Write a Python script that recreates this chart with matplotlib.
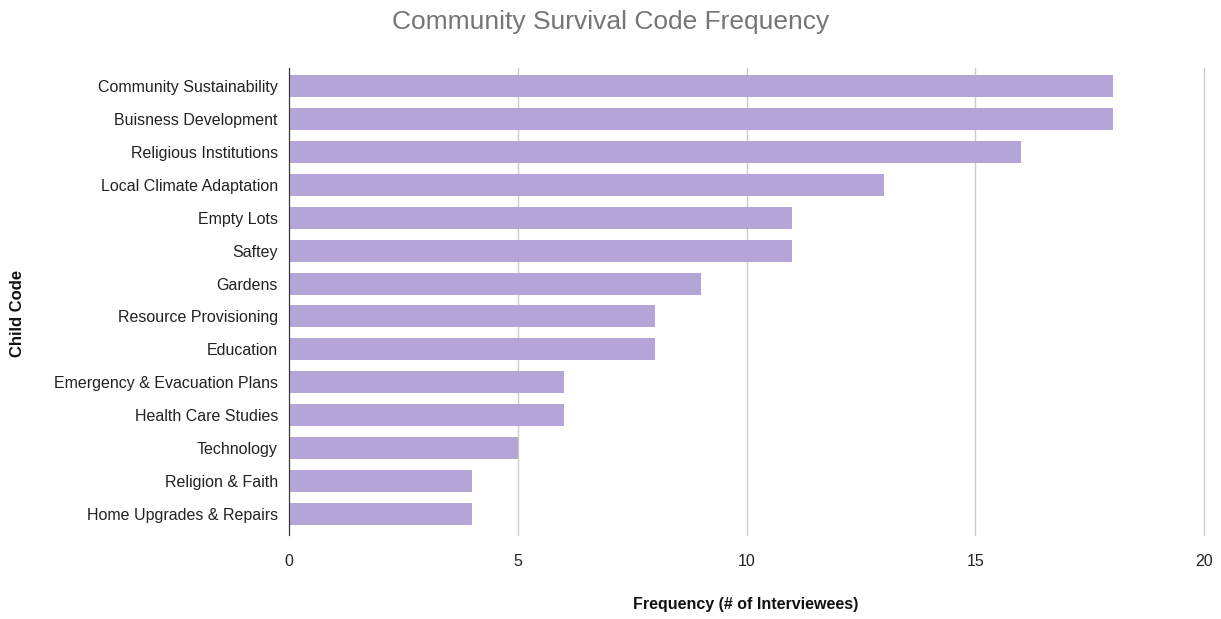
import matplotlib
matplotlib.use("Agg")
import matplotlib.pyplot as plt

categories = ["Community Sustainability", "Buisness Development", "Religious Institutions",
              "Local Climate Adaptation", "Empty Lots", "Saftey", "Gardens",
              "Resource Provisioning", "Education", "Emergency & Evacuation Plans",
              "Health Care Studies", "Technology", "Religion & Faith", "Home Upgrades & Repairs"]
values = [18, 18, 16, 13, 11, 11, 9, 8, 8, 6, 6, 5, 4, 4]
xticks = [0, 5, 10, 15, 20]

plt.rcParams['font.family'] = ['Liberation Sans', 'DejaVu Sans']

fig = plt.figure(figsize=(12.21, 6.19), dpi=100)
ax = fig.add_axes([289/1221, 1-535/619, (1204-289)/1221, (535-68)/619])

ypos = list(range(len(categories)))
ax.barh(ypos, values, height=0.67, color="#b3a5d6", zorder=3)
ax.set_yticks(ypos)
ax.set_yticklabels(categories, fontsize=11.5, color="#222222")
ax.set_ylim(13.64, -0.55)
ax.set_xlim(0, 20)
ax.set_xticks(xticks)
ax.set_xticklabels([str(t) for t in xticks], fontsize=11.5, color="#222222")
ax.grid(axis='x', color="#cccccc", linewidth=1, zorder=0)
for gl in ax.get_xgridlines():
    gl.set_clip_on(False)
for s in ["top", "right", "bottom"]:
    ax.spines[s].set_visible(False)
ax.spines["left"].set_color("#333333")
ax.spines["left"].set_zorder(4)
ax.tick_params(axis='both', length=0)
ax.tick_params(axis='x', pad=14)
ax.tick_params(axis='y', pad=8)

fig.text(0.5, 1-22/619, "Community Survival Code Frequency", ha="center", va="center",
         fontsize=19, color="#757575")
fig.text(746/1221, 1-605/619, "Frequency (# of Interviewees)", ha="center", va="center",
         fontsize=11.5, fontweight="bold", color="#111111")
fig.text(18/1221, 1-313/619, "Child Code", ha="center", va="center", rotation=90,
         fontsize=12, fontweight="bold", color="#111111")

fig.savefig("out.png", dpi=100)
